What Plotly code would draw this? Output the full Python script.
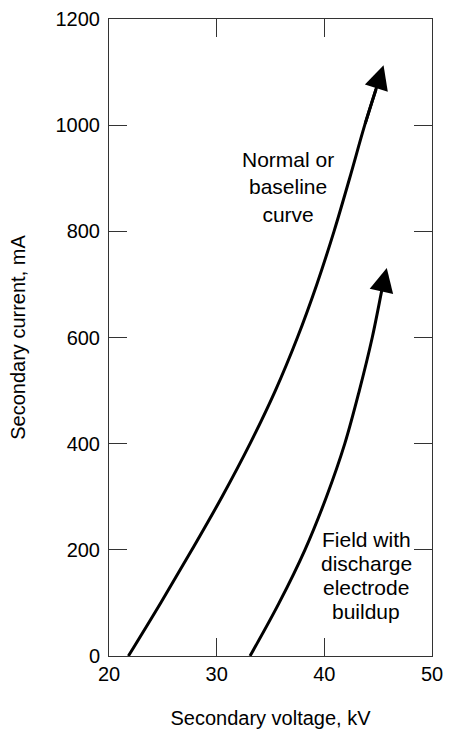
import plotly.graph_objects as go

# Data
normal_kv = [21.8, 24.8, 27.7, 30.5, 33.1, 35.45, 37.5, 39.3, 40.9, 42.35, 43.75, 45.5]
normal_ma = [0, 100, 200, 300, 400, 500, 600, 700, 800, 900, 1000, 1113]

buildup_kv = [33.1, 35.8, 38.2, 40.2, 41.9, 43.25, 44.45, 45.45, 45.8]
buildup_ma = [0, 100, 200, 300, 400, 500, 600, 700, 731]

x_ticks = [20, 30, 40, 50]
y_ticks = [0, 200, 400, 600, 800, 1000, 1200]

label_normal = "Normal or<br>baseline<br>curve"
label_buildup_lines = ["Field with", "discharge", "electrode", "buildup"]

FONT = "Liberation Sans, Arial, sans-serif"

fig = go.Figure()
for xs, ys in [(normal_kv, normal_ma), (buildup_kv, buildup_ma)]:
    # curve up to (just short of) the arrow tip
    n = len(xs)
    fig.add_trace(go.Scatter(x=xs[:-1] + [xs[-2] + 0.6 * (xs[-1] - xs[-2])],
                             y=ys[:-1] + [ys[-2] + 0.6 * (ys[-1] - ys[-2])],
                             mode="lines",
                             line=dict(color="black", width=3, shape="spline",
                                       smoothing=1.0),
                             showlegend=False, hoverinfo="skip"))
    fig.add_annotation(x=xs[-1], y=ys[-1], ax=xs[-2], ay=ys[-2],
                       xref="x", yref="y", axref="x", ayref="y",
                       text="", showarrow=True, arrowhead=2, arrowsize=1.6,
                       arrowwidth=3, arrowcolor="black", standoff=0)

fig.add_annotation(x=36.6, y=884, xref="x", yref="y", text=label_normal,
                   showarrow=False, font=dict(family=FONT, size=21, color="black"),
                   align="center")
field_y = [218.7, 173.5, 128.2, 83.0]
for txt, yy in zip(label_buildup_lines, field_y):
    fig.add_annotation(x=43.9, y=yy, xref="x", yref="y", text=txt,
                       showarrow=False, font=dict(family=FONT, size=21, color="black"),
                       align="center")

axis_common = dict(showgrid=False, zeroline=False, showline=True, linecolor="#333",
                   linewidth=1, mirror="ticks", ticks="inside", ticklen=18,
                   tickcolor="#333", tickwidth=1,
                   tickfont=dict(family=FONT, size=20, color="black"))

fig.update_xaxes(range=[20, 50], tickvals=x_ticks, ticktext=[str(v) for v in x_ticks],
                 title=dict(text="Secondary voltage, kV", standoff=26,
                            font=dict(family=FONT, size=20, color="black")),
                 ticklabelstandoff=0, **axis_common)
fig.update_yaxes(range=[0, 1200], tickvals=y_ticks, ticktext=[str(v) for v in y_ticks],
                 title=dict(text="Secondary current, mA", standoff=24,
                            font=dict(family=FONT, size=20, color="black")),
                 ticklabelstandoff=4, **axis_common)

fig.update_layout(width=449, height=731,
                  margin=dict(l=109, r=17, t=19, b=75, autoexpand=False),
                  paper_bgcolor="white", plot_bgcolor="white",
                  font=dict(family=FONT, size=20, color="black"))

fig.write_html("out.html")
